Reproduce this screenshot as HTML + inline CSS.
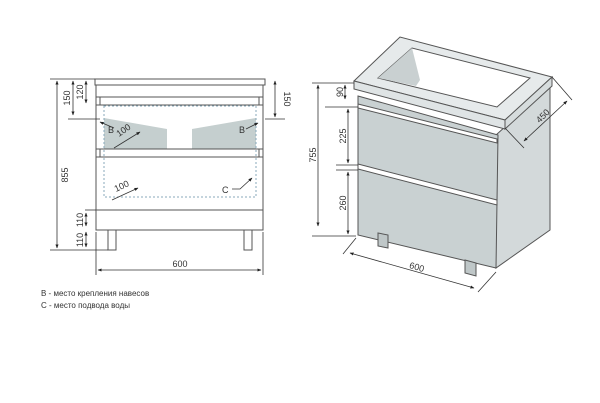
<!DOCTYPE html><html><head><meta charset="utf-8"><style>body{margin:0;background:#fff}svg{display:block}text{font-family:"Liberation Sans",sans-serif;fill:#333}</style></head><body>
<svg width="600" height="403" viewBox="0 0 600 403">
<defs><marker id="a" viewBox="0 0 10 10" refX="9" refY="5" markerWidth="5" markerHeight="5" orient="auto-start-reverse"><path d="M0,1L10,5L0,9z" fill="#222"/></marker></defs>
<g stroke="#555" stroke-width="1" fill="none">
<!-- left front view -->
<rect x="95" y="79" width="170" height="6" fill="#fff"/>
<rect x="96" y="85" width="167" height="145" fill="#fff"/>
<line x1="96" y1="97" x2="263" y2="97"/><line x1="96" y1="105" x2="263" y2="105"/>
<polygon points="104,118 167,129 167,149 104,149" fill="#c5cfcf" stroke="none"/>
<polygon points="192,129 256,118 256,149 192,149" fill="#c5cfcf" stroke="none"/>
<line x1="96" y1="149" x2="263" y2="149"/><line x1="96" y1="157" x2="263" y2="157"/>
<rect x="104" y="106" width="152" height="91" stroke="#8ab" stroke-dasharray="2,2"/>
<line x1="96" y1="210" x2="263" y2="210"/>
<rect x="108" y="230" width="8" height="20" fill="#fff"/><rect x="244" y="230" width="8" height="20" fill="#fff"/>
<line x1="100" y1="97" x2="100" y2="105"/><line x1="259" y1="97" x2="259" y2="105"/>
<line x1="100" y1="149" x2="100" y2="157"/><line x1="259" y1="149" x2="259" y2="157"/>
<!-- dims left -->
<g stroke="#333" stroke-width="0.8">
<line x1="50" y1="79" x2="95" y2="79"/><line x1="50" y1="250" x2="108" y2="250"/>
<line x1="57" y1="81" x2="57" y2="248" marker-start="url(#a)" marker-end="url(#a)"/>
<line x1="73" y1="81" x2="73" y2="115" marker-start="url(#a)" marker-end="url(#a)"/>
<line x1="86" y1="81" x2="86" y2="103" marker-start="url(#a)" marker-end="url(#a)"/>
<line x1="68" y1="119" x2="100" y2="119"/><line x1="265" y1="119" x2="285" y2="119"/>
<line x1="275" y1="81" x2="275" y2="117" marker-start="url(#a)" marker-end="url(#a)"/>
<line x1="85" y1="210" x2="96" y2="210"/>
<line x1="86" y1="213" x2="86" y2="226" marker-start="url(#a)" marker-end="url(#a)"/>
<line x1="86" y1="232" x2="86" y2="247" marker-start="url(#a)" marker-end="url(#a)"/>
<line x1="96" y1="232" x2="96" y2="275"/><line x1="263" y1="232" x2="263" y2="275"/>
<line x1="98" y1="270" x2="261" y2="270" marker-start="url(#a)" marker-end="url(#a)"/>
<line x1="114" y1="128" x2="100" y2="122" marker-end="url(#a)"/>
<line x1="246" y1="129" x2="258" y2="123" marker-end="url(#a)"/>
<line x1="114" y1="148" x2="140" y2="132" marker-end="url(#a)"/>
<line x1="112" y1="200" x2="138" y2="188" marker-end="url(#a)"/>
<path d="M232,189 L240,189 L252,178" marker-end="url(#a)"/>
</g>
<!-- right iso view -->
<polygon points="496,135 550,86 550,230 496,268" fill="#d3d9da"/>
<polygon points="358,96 498,135 496,268 358,235" fill="#c9d1d2"/>
<polygon points="354,81 400,37 552,77 505,120" fill="#e6eaeb"/>
<polygon points="354,81 505,120 505,129 354,89" fill="#dfe4e5"/>
<polygon points="505,120 552,77 552,86 505,129" fill="#d6dcdd"/>
<polygon points="378,78 412,48 530,78 497,107" fill="#fff"/>
<polygon points="412,48 420,80 416,86 378,78" fill="#c9d0d1" stroke="none"/>
<polygon points="358,104 497,139 497,143 358,108" fill="#fff"/>
<polygon points="358,164 497,200 497,205 358,169" fill="#fff"/>
<polygon points="378,233 388,235 388,248 378,246" fill="#bfc7c8"/>
<polygon points="465,260 476,263 476,276 465,273" fill="#bfc7c8"/>
<g stroke="#333" stroke-width="0.8">
<line x1="312" y1="83" x2="354" y2="83"/><line x1="312" y1="236" x2="356" y2="236"/>
<line x1="318" y1="85" x2="318" y2="226" marker-start="url(#a)" marker-end="url(#a)"/>
<line x1="345" y1="85" x2="345" y2="99" marker-start="url(#a)" marker-end="url(#a)"/>
<line x1="325" y1="107" x2="358" y2="107"/><line x1="336" y1="165" x2="358" y2="165"/><line x1="336" y1="170" x2="358" y2="170"/>
<line x1="348" y1="109" x2="348" y2="163" marker-start="url(#a)" marker-end="url(#a)"/>
<line x1="348" y1="172" x2="348" y2="234" marker-start="url(#a)" marker-end="url(#a)"/>
<line x1="356" y1="238" x2="343" y2="254"/><line x1="496" y1="272" x2="478" y2="292"/>
<line x1="350" y1="253" x2="474" y2="288" marker-start="url(#a)" marker-end="url(#a)"/>
<line x1="505" y1="128" x2="524" y2="148"/><line x1="552" y1="77" x2="572" y2="100"/>
<line x1="524" y1="141" x2="567" y2="101" marker-start="url(#a)" marker-end="url(#a)"/>
</g>
</g>
<g font-size="9">
<text transform="translate(68,175) rotate(-90)" text-anchor="middle">855</text>
<text transform="translate(70,98) rotate(-90)" text-anchor="middle">150</text>
<text transform="translate(83,92) rotate(-90)" text-anchor="middle">120</text>
<text transform="translate(284,99) rotate(90)" text-anchor="middle">150</text>
<text transform="translate(83,220) rotate(-90)" text-anchor="middle">110</text>
<text transform="translate(83,240) rotate(-90)" text-anchor="middle">110</text>
<text x="180" y="267" text-anchor="middle">600</text>
<text x="108" y="133">B</text><text x="239" y="133">B</text>
<text transform="translate(119,137) rotate(-35)">100</text>
<text transform="translate(116,192) rotate(-25)">100</text>
<text x="222" y="193">C</text>
<text transform="translate(316,155) rotate(-90)" text-anchor="middle">755</text>
<text transform="translate(343,92) rotate(-90)" text-anchor="middle">90</text>
<text transform="translate(346,136) rotate(-90)" text-anchor="middle">225</text>
<text transform="translate(346,203) rotate(-90)" text-anchor="middle">260</text>
<text transform="translate(416,270) rotate(16)" text-anchor="middle">600</text>
<text transform="translate(545,118) rotate(-45)" text-anchor="middle">450</text>
</g>
<g font-size="8"><text x="41" y="296">B - место крепления навесов</text><text x="41" y="308">C - место подвода воды</text></g>
</svg></body></html>
